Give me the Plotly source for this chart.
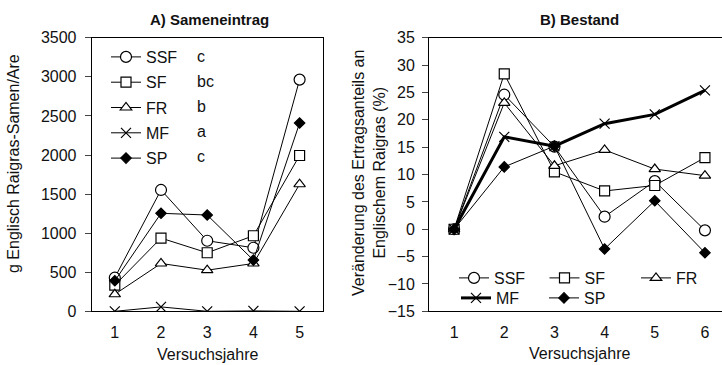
import plotly.graph_objects as go

# ---------------- data ----------------
years_a = [1, 2, 3, 4, 5]
ssf_a = [430, 1553, 903, 813, 2965]
sf_a = [334, 937, 749, 967, 1994]
fr_a = [218, 612, 526, 612, 1626]
mf_a = [0, 56, 0, 5, 0]
sp_a = [390, 1254, 1232, 655, 2409]
sig_letters = ["c", "bc", "b", "a", "c"]

years_b = [1, 2, 3, 4, 5, 6]
ssf_b = [0, 24.6, 15.1, 2.3, 8.8, -0.2]
sf_b = [0, 28.4, 10.5, 7.0, 8.0, 13.1]
fr_b = [0, 23.1, 11.6, 14.5, 11.0, 9.8]
mf_b = [0, 16.9, 15.2, 19.3, 21.0, 25.4]
sp_b = [0, 11.4, 15.2, -3.6, 5.2, -4.3]

names = ["SSF", "SF", "FR", "MF", "SP"]
W, H = 722, 365
FONT = "Liberation Sans, Arial, sans-serif"
INK = "#111111"

styles = {
    "SSF": dict(symbol="circle", size=11, color="white"),
    "SF": dict(symbol="square", size=10, color="white"),
    "FR": dict(symbol="triangle-up", size=10, color="white"),
    "MF": dict(symbol="x-thin", size=10, color="black"),
    "SP": dict(symbol="diamond", size=8, color="black"),
}

fig = go.Figure()

series_a = [ssf_a, sf_a, fr_a, mf_a, sp_a]
for nm, ys in zip(names, series_a):
    st = styles[nm]
    fig.add_trace(go.Scatter(
        x=years_a, y=ys, name=nm, mode="lines+markers",
        line=dict(color="black", width=1),
        marker=dict(symbol=st["symbol"], size=st["size"], color=st["color"],
                    line=dict(color="black", width=1.2)),
        xaxis="x", yaxis="y", legend="legend", legendgroup="a" + nm,
    ))

series_b = [ssf_b, sf_b, fr_b, mf_b, sp_b]
leg_names = ["legend2", "legend3", "legend4", "legend5", "legend6"]
for nm, ys, lg in zip(names, series_b, leg_names):
    st = styles[nm]
    fig.add_trace(go.Scatter(
        x=years_b, y=ys, name=nm, mode="lines+markers",
        line=dict(color="black", width=3 if nm == "MF" else 1),
        marker=dict(symbol=st["symbol"], size=st["size"], color=st["color"],
                    line=dict(color="black", width=1.2)),
        xaxis="x2", yaxis="y2", legend=lg,
    ))

def px_x(p):
    return p / W

def px_y(p):
    return 1 - p / H

ydom = [px_y(311.3), px_y(37.8)]
axis_common = dict(showline=True, linecolor="black", linewidth=1, showgrid=False,
                   zeroline=False, automargin=False,
                   tickfont=dict(family=FONT, size=16, color=INK))

layout = dict(
    template="none",
    width=W, height=H, margin=dict(l=0, r=0, t=0, b=0, pad=0, autoexpand=False),
    paper_bgcolor="white", plot_bgcolor="white",
    font=dict(family=FONT, size=16, color=INK),
    xaxis=dict(domain=[px_x(91.7), px_x(322.7)], range=[0.5, 5.5], tickvals=years_a,
               ticks="", mirror=True, anchor="y", ticklabelstandoff=6, **axis_common),
    yaxis=dict(domain=ydom, range=[0, 3500], dtick=500, ticks="outside", ticklen=6,
               mirror=True, anchor="x", ticklabelstandoff=5, **axis_common),
    xaxis2=dict(domain=[px_x(429), 1], range=[0.5, 6.34], tickvals=years_b,
                ticks="", mirror=True, anchor="y2", ticklabelstandoff=6, **axis_common),
    yaxis2=dict(domain=ydom, range=[-15, 35], dtick=5, ticks="outside", ticklen=6,
                mirror=False, anchor="x2", ticklabelstandoff=4, **axis_common),
    showlegend=True,
    legend=dict(x=px_x(106), y=px_y(40), xanchor="left", yanchor="top",
                bgcolor="rgba(0,0,0,0)", font=dict(family=FONT, size=16, color=INK),
                tracegroupgap=1.5),
)

# B legends: one entry each, placed in the grid of the reference
pos_b = [(454, 278), (544.5, 278), (636, 278), (456, 298), (544, 298)]
for lg, (lx, ly) in zip(leg_names, pos_b):
    layout[lg] = dict(x=px_x(lx), y=px_y(ly), xanchor="left", yanchor="middle",
                      bgcolor="rgba(0,0,0,0)", font=dict(family=FONT, size=16, color=INK))

fig.update_layout(**layout)

def note(text, x, y, size=16, angle=0, xa="center"):
    return dict(text=text, x=px_x(x), y=px_y(y), xref="paper", yref="paper",
                xanchor=xa, yanchor="middle", showarrow=False, textangle=angle,
                font=dict(family=FONT, size=size, color=INK))

ann = [
    note("<b>A) Sameneintrag</b>", 209, 19, size=15),
    note("<b>B) Bestand</b>", 579, 19, size=15),
    note("Versuchsjahre", 207, 354),
    note("Versuchsjahre", 579, 353),
    note("g Englisch Raigras-Samen/Are", 14, 164, angle=-90),
    note("Veränderung des Ertragsanteils an<br>Englischem Raigras (%)", 369, 173, angle=-90),
]
for i, letter in enumerate(sig_letters):
    ann.append(note(letter, 195, 56.7 + i * 25, xa="left"))
fig.update_layout(annotations=ann)

fig.write_html("out.html")
